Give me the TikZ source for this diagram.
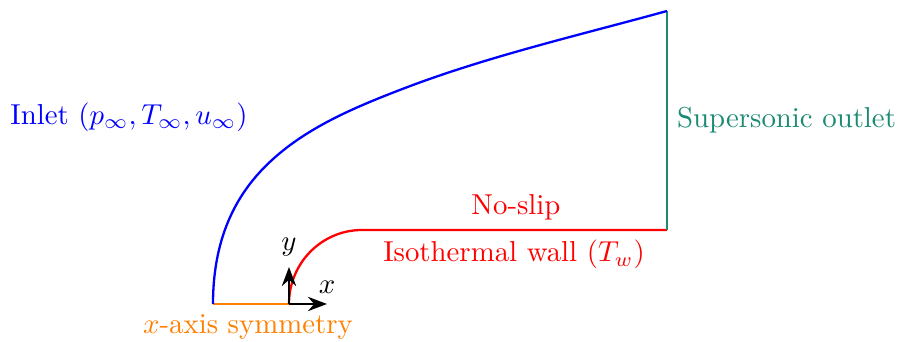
\documentclass[tikz,border=0pt]{standalone}
\usepackage{tikz}
\usetikzlibrary{arrows.meta,positioning,calc}
\definecolor{inletblue}{RGB}{0,0,255}
\definecolor{wallred}{RGB}{255,0,0}
\definecolor{symorange}{RGB}{255,128,0}
\definecolor{outletgreen}{HTML}{1A8A73}
\begin{document}
\begin{tikzpicture}[x=0.347pt,y=0.347pt,>=Stealth]
 \useasboundingbox (0,0) rectangle (899,342);
 \coordinate (A) at (213,38);
 \coordinate (O) at (289,38);
 \coordinate (W) at (667,112);
 \coordinate (T) at (667,331);
 % boundaries
 \draw[symorange,thick] (A) -- (O);
 \draw[wallred,thick] (O) arc[start angle=180,end angle=90,x radius=73,y radius=74] -- (W);
 \draw[outletgreen,thick] (W) -- (T);
 \draw[inletblue,thick] (A) .. controls (213,108) and (239,152) .. (272,182)
   .. controls (309,216) and (358,236) .. (405,254)
   .. controls (489,286) and (580,307) .. (T);
 % axes
 \draw[thick,->] (O) -- (327,38) node[above] (xl) {$x$};
 \draw[thick,->] (O) -- (289,75) node[above] (yl) {$y$};
 % labels
 \node[symorange,below] (sym) at (248,38) {$x$-axis symmetry};
 \node[wallred,above] (noslip) at (516,112) {No-slip};
 \node[wallred,below] (wall) at (514,112) {Isothermal wall $(T_w)$};
 \node[outletgreen,right] (outlet) at ($(W)!.5!(T)$) {Supersonic outlet};
 \node[inletblue] (inlet) at (129,225) {Inlet $(p_\infty,T_\infty,u_\infty)$};
\end{tikzpicture}
\end{document}
